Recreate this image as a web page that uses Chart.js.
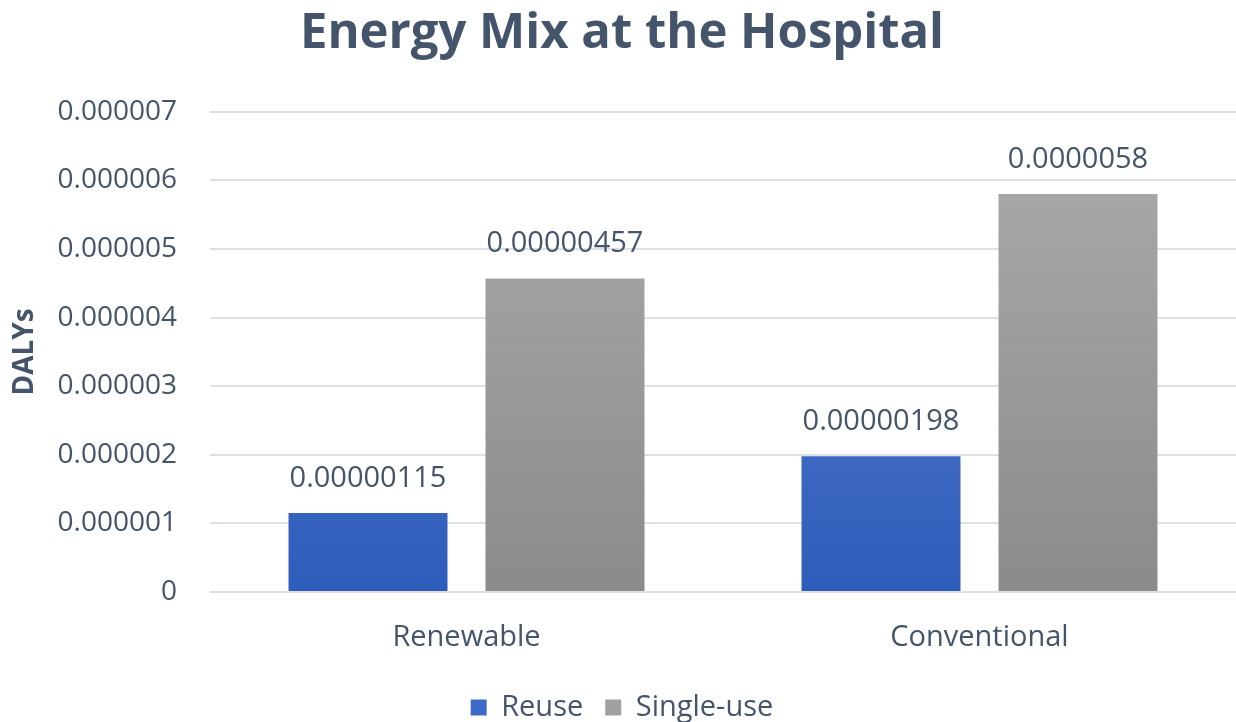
<!DOCTYPE html>
<html>
<head>
<meta charset="utf-8">
<title>Energy Mix at the Hospital</title>
<script src="https://cdn.jsdelivr.net/npm/chart.js@4.4.1/dist/chart.umd.min.js"></script>
<style>
  html, body { margin: 0; padding: 0; background: #fff; }
  #wrap { width: 1236px; height: 722px; }
</style>
</head>
<body>
<div id="wrap"><canvas id="chart" width="1236" height="722"></canvas></div>
<script>
const categories = ['Renewable', 'Conventional'];
const reuseValues = [0.00000115, 0.00000198];
const singleUseValues = [0.00000457, 0.0000058];
const reuseLabels = ['0.00000115', '0.00000198'];
const singleUseLabels = ['0.00000457', '0.0000058'];

const textColor = '#44546a';
const fontFamily = '"Open Sans", sans-serif';

// vertical fill from a lighter top to a darker bottom
function barGradient(top, bottom) {
    return function (ctx) {
        const chart = ctx.chart;
        const area = chart.chartArea;
        if (!area) return bottom;
        const el = ctx.element;
        const y0 = el && el.y !== undefined ? el.y : area.top;
        const y1 = el && el.base !== undefined ? el.base : area.bottom;
        const g = chart.ctx.createLinearGradient(0, y0, 0, y1);
        g.addColorStop(0, top);
        g.addColorStop(1, bottom);
        return g;
    };
}

// prints the value text above each bar
const valueLabels = {
    id: 'valueLabels',
    afterDatasetsDraw(chart) {
        const ctx = chart.ctx;
        ctx.save();
        ctx.font = '29px ' + fontFamily;
        ctx.fillStyle = textColor;
        ctx.textAlign = 'center';
        ctx.textBaseline = 'alphabetic';
        chart.data.datasets.forEach((ds, i) => {
            chart.getDatasetMeta(i).data.forEach((bar, j) => {
                ctx.fillText(ds.valueText[j], bar.x, bar.y - 26);
            });
        });
        ctx.restore();
    }
};

new Chart(document.getElementById('chart'), {
    type: 'bar',
    data: {
        labels: categories,
        datasets: [
            {
                label: 'Reuse',
                data: reuseValues,
                valueText: reuseLabels,
                backgroundColor: barGradient('#6187d4', '#2e5cba'),
                solid: '#3d69c7',
                borderWidth: 0,
                categoryPercentage: 0.768,
                barPercentage: 0.807
            },
            {
                label: 'Single-use',
                data: singleUseValues,
                valueText: singleUseLabels,
                backgroundColor: barGradient('#acacac', '#8b8b8b'),
                solid: '#a0a0a0',
                borderWidth: 0,
                categoryPercentage: 0.768,
                barPercentage: 0.807
            }
        ]
    },
    options: {
        responsive: false,
        animation: false,
        layout: { padding: { left: 8, right: 0, top: 0, bottom: -10 } },
        plugins: {
            title: {
                display: true,
                text: 'Energy Mix at the Hospital',
                color: textColor,
                font: { family: fontFamily, size: 49, weight: 'bold' },
                padding: { top: 5, bottom: 48 }
            },
            legend: {
                position: 'bottom',
                labels: {
                    color: textColor,
                    font: { family: fontFamily, size: 29 },
                    boxWidth: 16,
                    boxHeight: 16,
                    padding: 22,
                    generateLabels(chart) {
                        return chart.data.datasets.map((ds, i) => ({
                            text: ds.label,
                            fillStyle: ds.solid,
                            strokeStyle: ds.solid,
                            lineWidth: 0,
                            fontColor: textColor,
                            datasetIndex: i
                        }));
                    }
                }
            },
            tooltip: { enabled: false }
        },
        scales: {
            x: {
                grid: { display: false },
                border: { display: false },
                ticks: {
                    color: textColor,
                    font: { family: fontFamily, size: 29 },
                    padding: 20
                },
                afterFit(scale) { scale.height = 79; }
            },
            y: {
                min: 0,
                max: 0.000007,
                border: { display: false },
                grid: { color: '#dde1e6', lineWidth: 2, drawTicks: false },
                title: {
                    display: true,
                    text: 'DALYs',
                    color: textColor,
                    font: { family: fontFamily, size: 28, weight: 'bold' },
                    padding: { top: 0, bottom: 4 }
                },
                ticks: {
                    stepSize: 0.000001,
                    color: textColor,
                    font: { family: fontFamily, size: 28 },
                    padding: 33,
                    callback: v => v === 0 ? '0' : v.toFixed(6)
                },
                afterFit(scale) { scale.width = 202; }
            }
        }
    },
    plugins: [valueLabels]
});
</script>
</body>
</html>
